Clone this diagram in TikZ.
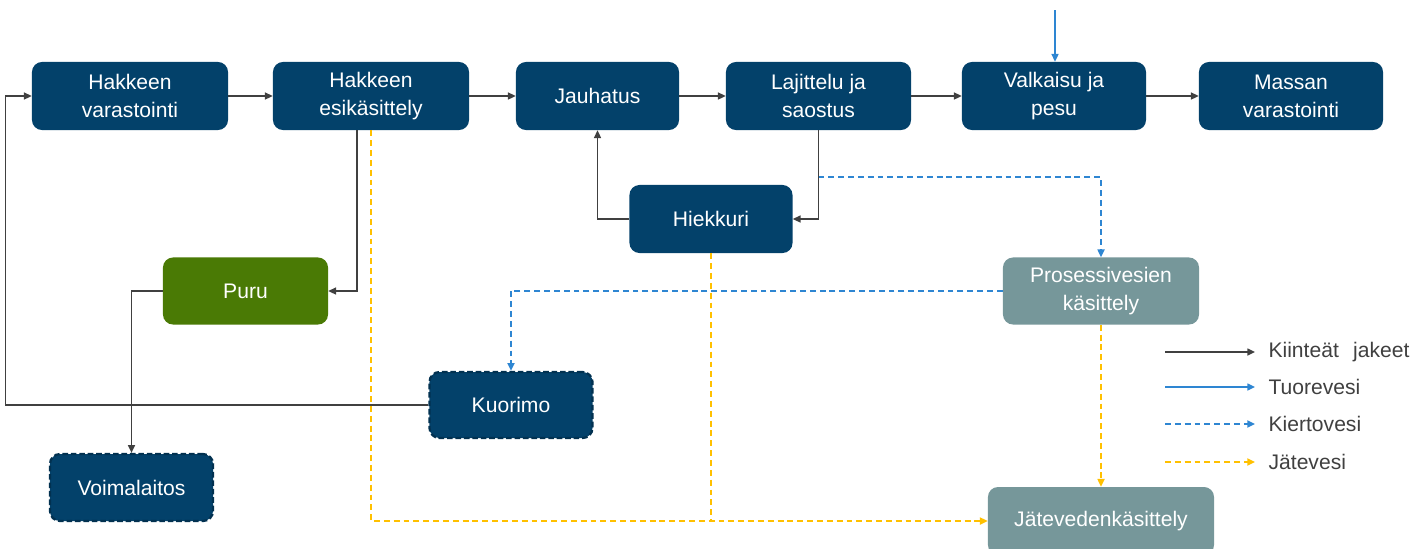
\documentclass[tikz,border=0pt]{standalone}
\usepackage{fontspec}
\setmainfont{Liberation Sans}
\usetikzlibrary{arrows.meta, calc}
\definecolor{PrcF}{HTML}{03416A}
\definecolor{PurF}{HTML}{4A7A05}
\definecolor{VesF}{HTML}{76979A}
\definecolor{AK}  {HTML}{404040}
\definecolor{AT}  {HTML}{2E86D2}
\definecolor{AJ}  {HTML}{FFC000}
\definecolor{LgT} {HTML}{404040}
\tikzset{
  BLK/.style={
    rectangle, rounded corners=0.25cm,
    fill=#1, text=white,
    font=\fontsize{15}{20}\selectfont, align=center,
    inner sep=2pt, minimum height=1.7cm
  },
  EXT/.style={
    draw=PrcF!75!black, dash pattern=on 4pt off 2pt,
    line width=1.6pt
  },
  ARR/.style={
    -{Triangle[length=5.5pt,width=5pt]},
    line width=1.05pt, color=#1
  },
  DSH/.style={
    ARR=#1, line width=1.15pt, dash pattern=on 4.2pt off 2.8pt
  },
  LEG/.style={
    right, inner sep=0pt, xshift=0.32cm,
    text=LgT, font=\fontsize{15}{20}\selectfont
  },
}
\begin{document}
\begin{tikzpicture}[x=0.025cm,y=-0.025cm]
\useasboundingbox (0,0) rectangle (1421,548);

%================ MAIN LINE =================
\node[BLK=PrcF,minimum width=4.9cm]   (hv) at (130,96)    {Hakkeen\\varastointi};
\node[BLK=PrcF,minimum width=4.9cm]   (he) at (371,96)    {Hakkeen\\esikäsittely};
\node[BLK=PrcF,minimum width=4.075cm] (ja) at (597.5,96)  {Jauhatus};
\node[BLK=PrcF,minimum width=4.625cm] (ls) at (818.5,96)  {Lajittelu ja\\saostus};
\node[BLK=PrcF,minimum width=4.6cm]   (vp) at (1054,96)   {Valkaisu ja\\pesu};
\node[BLK=PrcF,minimum width=4.6cm]   (mv) at (1291,96)   {Massan\\varastointi};

%================ SIDE UNITS =================
\node[BLK=PrcF,minimum width=4.075cm] (hk) at (711,219) {Hiekkuri};
\node[BLK=PurF,minimum width=4.125cm,minimum height=1.675cm]
(pu) at (245.5,291) {Puru};
\node[BLK=VesF,minimum width=4.9cm,minimum height=1.675cm]
(pv) at (1101,291) {Prosessivesien\\käsittely};
\node[BLK=PrcF,EXT,minimum width=4.075cm,minimum height=1.65cm]
(ku) at (511,405) {Kuorimo};
\node[BLK=PrcF,EXT,minimum width=4.075cm,minimum height=1.675cm]
(vo) at (131.5,487.5) {Voimalaitos};
\node[BLK=VesF,minimum width=5.65cm] (jk) at (1101,521) {Jätevedenkäsittely};

%================ SOLID FLOWS =================
\draw[ARR=AK] (hv.east)--(he.west);
\draw[ARR=AK] (he.east)--(ja.west);
\draw[ARR=AK] (ja.east)--(ls.west);
\draw[ARR=AK] (ls.east)--(vp.west);
\draw[ARR=AK] (vp.east)--(mv.west);

\draw[ARR=AK] (ls.south) |- (hk.east);
\draw[ARR=AK] (hk.west) -| (ja.south);
\draw[ARR=AK] ($(he.south)+(-14,0)$) |- (pu.east);
\draw[ARR=AK] (pu.west) -| (vo.north);
\draw[ARR=AK] (ku.west) -- ++(-423,0) |- (hv.west);

%================ FRESH WATER =================
\coordinate (tuo) at (1055,10);
\draw[ARR=AT] (tuo) -- (tuo |- vp.north);

%================ CIRCULATION WATER =================
\coordinate (kvh) at ($(ls.south)+(0,47)$);
\draw[DSH=AT] (kvh) -| (pv.north);
\draw[DSH=AT] (pv.west) -| (ku.north);

%================ WASTE WATER =================
\draw[DSH=AJ] (he.south) |- (jk.west);
\draw[DSH=AJ,-] (hk.south) -- (hk.south |- jk.west);
\draw[DSH=AJ] (pv.south) -- (jk.north);

%================ LEGEND =================
\coordinate (lg1) at (1165,352);
\coordinate (lg2) at (1165,387);
\coordinate (lg3) at (1165,424);
\coordinate (lg4) at (1165,462);
\draw[ARR=AK] (lg1) -- ++(90,0) node[LEG] {Kiinteät\hspace{0.4em} jakeet};
\draw[ARR=AT] (lg2) -- ++(90,0) node[LEG] {Tuorevesi};
\draw[DSH=AT] (lg3) -- ++(90,0) node[LEG] {Kiertovesi};
\draw[DSH=AJ] (lg4) -- ++(90,0) node[LEG] {Jätevesi};

\end{tikzpicture}
\end{document}
